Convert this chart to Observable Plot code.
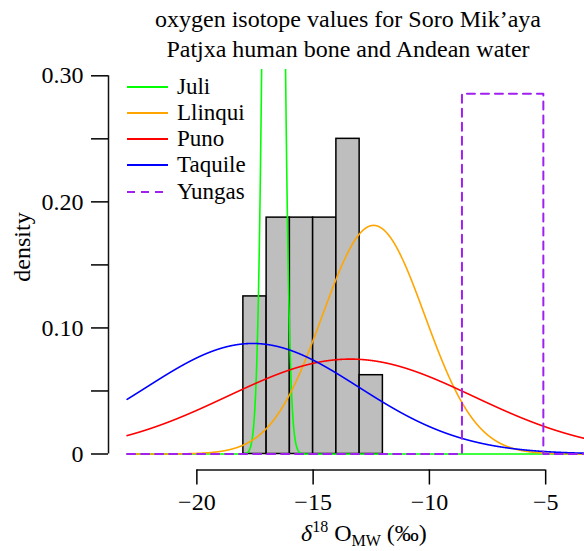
<!DOCTYPE html>
<html><head><meta charset="utf-8">
<script src="https://cdn.jsdelivr.net/npm/d3@7"></script>
<script src="https://cdn.jsdelivr.net/npm/@observablehq/plot@0.6"></script>
<style>
body{margin:0;background:#fff;}
#wrap{position:relative;width:584px;height:551px;overflow:hidden;font-family:"Liberation Serif","Times New Roman",serif;color:#000;background:#fff;}
#title{position:absolute;top:5px;left:98px;width:500px;text-align:center;font-size:24px;line-height:29.5px;}
#chart{position:absolute;top:64px;left:0;}
#chart svg, #chart svg text{font-family:"Liberation Serif","Times New Roman",serif !important;}
#ylab{position:absolute;left:22px;top:247px;transform:translate(-50%,-50%) rotate(-90deg);font-size:24px;white-space:nowrap;line-height:24px;}
#xlab{position:absolute;left:301px;top:521px;font-size:24px;line-height:24px;white-space:nowrap;}
#legend{position:absolute;left:127px;top:73.5px;font-size:23px;}
.row{display:flex;align-items:center;height:26.25px;}
.row svg{margin-right:9px;}
</style></head><body><div id="wrap">
<div id="title">oxygen isotope values for Soro Mik’aya<br>Patjxa human bone and Andean water</div>
<div id="chart"></div>
<div id="ylab">density</div>
<div id="xlab"><i>δ</i><span style="font-size:16px;position:relative;top:-9px;">18</span> O<span style="font-size:16px;position:relative;top:5px;">MW</span> (‰)</div>
<div id="legend"></div>
</div>
<script>
// ---- data ----
const seriesNames = ["Juli", "Llinqui", "Puno", "Taquile", "Yungas"];
const seriesColors = ["#00ff00", "#ffa500", "#ff0000", "#0000ff", "#a020f0"];
// normal density parameters (mean, sd) of the water sources
const normalNames = ["Juli", "Llinqui", "Puno", "Taquile"];
const normalMeans = [-16.7, -12.4, -13.4, -17.6];
const normalSds = [0.3, 2.2, 5.3, 4.55];
// Yungas: uniform density drawn as a dashed step outline
const yungasX = [-23, -8.6, -8.6, -5.1, -5.1, -2];
const yungasY = [0, 0, 0.2857, 0.2857, 0, 0];
// human bone histogram (density)
const binStart = [-18, -17, -16, -15, -14, -13];
const binEnd = [-17, -16, -15, -14, -13, -12];
const binDensity = [0.125, 0.1875, 0.1875, 0.1875, 0.25, 0.0625];
// axes
const xTicks = [-20, -15, -10, -5];
const xTickLabels = ["−20", "−15", "−10", "−5"];
const yTicks = [0, 0.05, 0.10, 0.15, 0.20, 0.25, 0.30];
const yTickLabels = ["0", "", "0.10", "", "0.20", "", "0.30"];
const curveStart = -23, curveEnd = -2;
const xDomain = [-23.8, -3.33];
const yDomain = [-0.01269, 0.305];
const serif = '"Liberation Serif", "Times New Roman", serif';

// ---- build tables ----
const bins = binStart.map((b, i) => ({x0: b, x1: binEnd[i], d: binDensity[i]}));
const xs = d3.range(curveStart, curveEnd + 1e-9, 0.005);
const curves = [];
normalNames.forEach((name, k) => {
  const m = normalMeans[k], s = normalSds[k];
  for (const x of xs) {
    const z = (x - m) / s;
    curves.push({name, x, y: Math.exp(-0.5 * z * z) / (s * Math.sqrt(2 * Math.PI))});
  }
});
const yungas = yungasX.map((x, i) => ({x, y: yungasY[i]}));

const chart = Plot.plot({
  width: 584, height: 487,
  marginLeft: 108, marginRight: 0, marginTop: 5, marginBottom: 81.5,
  style: {fontFamily: serif, fontSize: "24px", background: "transparent", overflow: "visible"},
  x: {domain: xDomain, label: null},
  y: {domain: yDomain, label: null},
  color: {domain: seriesNames, range: seriesColors},
  marks: [
    Plot.rectY(bins, {x1: "x0", x2: "x1", y: "d", fill: "#bebebe", stroke: "#000", strokeWidth: 1.5}),
    Plot.line(curves, {x: "x", y: "y", z: "name", stroke: "name", strokeWidth: 1.6, clip: true}),
    Plot.line(yungas, {x: "x", y: "y", stroke: seriesColors[4], strokeWidth: 2, strokeDasharray: "8,6", clip: true}),
    Plot.ruleX([xDomain[0]], {y1: yTicks[0], y2: yTicks[yTicks.length - 1], strokeWidth: 1.5, stroke: "#111"}),
    Plot.ruleY([yDomain[0]], {x1: xTicks[0], x2: xTicks[xTicks.length - 1], strokeWidth: 1.5, stroke: "#111"}),
    Plot.axisY({ticks: yTicks, tickSize: 17, tickPadding: 8, strokeWidth: 1.5, fontSize: 24, fontFamily: serif, tickFormat: (d, i) => yTickLabels[i], label: null}),
    Plot.axisX({ticks: xTicks, tickSize: 15, tickPadding: 8, strokeWidth: 1.5, fontSize: 24, fontFamily: serif, tickFormat: (d, i) => xTickLabels[i], label: null})
  ]
});
d3.select(chart).attr("font-family", serif);
d3.select(chart).selectAll("g, text").attr("font-family", serif).style("font-family", serif);
document.getElementById("chart").appendChild(chart);

// legend
const legend = document.getElementById("legend");
seriesNames.forEach((name, i) => {
  const row = document.createElement("div");
  row.className = "row";
  const dash = name === "Yungas" ? ' stroke-dasharray="8,6"' : "";
  row.innerHTML = `<svg width="41" height="4"><line x1="0" y1="2" x2="41" y2="2" stroke="${seriesColors[i]}" stroke-width="2"${dash}/></svg><span>${name}</span>`;
  legend.appendChild(row);
});
</script></body></html>
